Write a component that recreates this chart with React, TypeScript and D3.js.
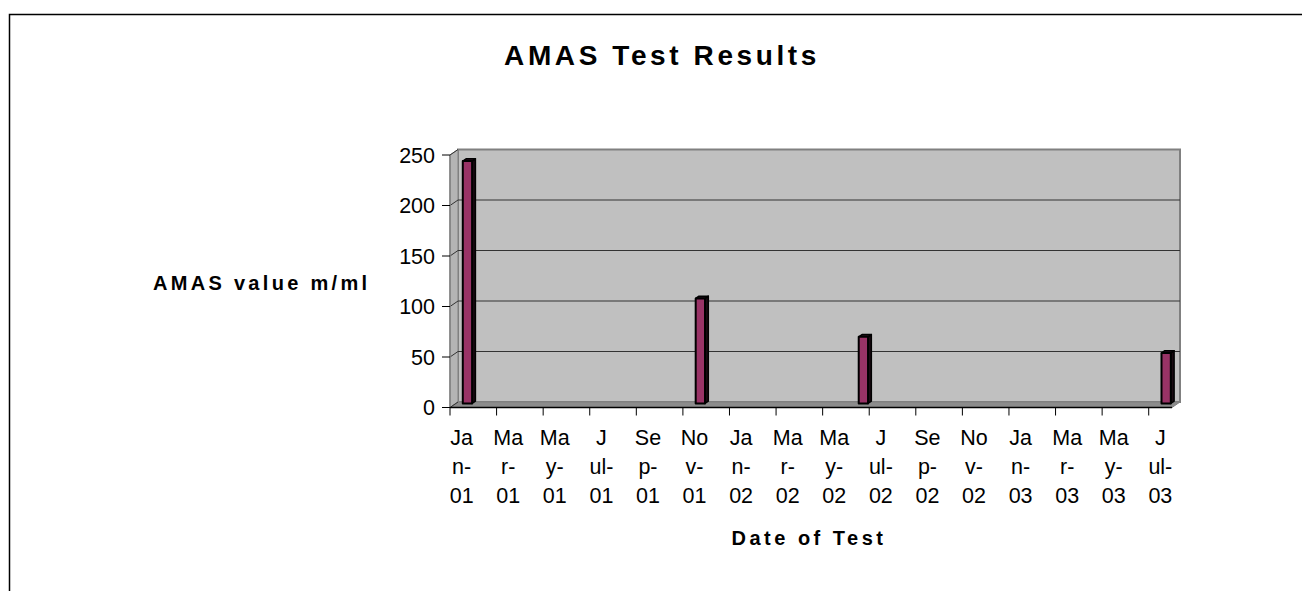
import * as d3 from 'd3';

// months on the date axis (base unit = month)
const firstMonth = '2001-01';
const lastMonth = '2003-07';

// test results
const testDates = ['2001-01', '2001-11', '2002-06', '2003-07'];
const amasValues = [240, 104, 66, 50];

const yTicks = [0, 50, 100, 150, 200, 250];

// Excel wraps the "Mmm-yy" labels into three lines
const tickLabelLines = [
    ['Ja', 'n-', '01'], ['Ma', 'r-', '01'], ['Ma', 'y-', '01'], ['J', 'ul-', '01'],
    ['Se', 'p-', '01'], ['No', 'v-', '01'], ['Ja', 'n-', '02'], ['Ma', 'r-', '02'],
    ['Ma', 'y-', '02'], ['J', 'ul-', '02'], ['Se', 'p-', '02'], ['No', 'v-', '02'],
    ['Ja', 'n-', '03'], ['Ma', 'r-', '03'], ['Ma', 'y-', '03'], ['J', 'ul-', '03'],
];

const FONT = '"Liberation Sans", Arial, sans-serif';

export default function App() {
    const width = 1302;
    const height = 591;

    const x0 = 450;
    const x1 = 1172;
    const yBase = 407.5;
    const yTop = 155;
    // depth offset of the 3-D floor / walls
    const dx = 8;
    const dy = -5.5;

    const parse = d3.timeParse('%Y-%m');
    const fmt = d3.timeFormat('%Y-%m');
    const months = d3.timeMonth
        .range(parse(firstMonth)!, d3.timeMonth.offset(parse(lastMonth)!, 1))
        .map(fmt);

    const x = d3.scaleBand<string>().domain(months).range([x0, x1]).padding(0);
    const y = d3.scaleLinear().domain([0, 250]).range([yBase, yTop]);

    const bw = x.bandwidth();
    const barW = bw / 2.5; // gap width 150%
    // bar sits part way into the depth
    const bShiftX = 5.8;
    const bShiftY = -4;
    const bDepthX = 3.3;
    const bDepthY = -2.3;

    const tickMonths = months.filter((_, i) => i % 2 === 0);

    const pts = (p: [number, number][]) => p.map((d) => d.join(',')).join(' ');

    return (
        <svg
            width={width}
            height={height}
            style={{ position: 'fixed', left: 0, top: 0, background: '#fff' }}
            fontFamily={FONT}
        >
            {/* outer chart frame (only top / left visible) */}
            <path d={`M9.5,${height}V14.5H${width}`} fill="none" stroke="#000" strokeWidth={1.5} />

            <text x={662} y={65} textAnchor="middle" fontSize={28} fontWeight="bold" letterSpacing={3.6}>
                AMAS Test Results
            </text>

            {/* back wall */}
            <rect
                x={x0 + dx}
                y={yTop + dy}
                width={x1 - x0}
                height={yBase - yTop}
                fill="#c0c0c0"
                stroke="#808080"
                strokeWidth={2}
            />
            {/* side wall */}
            <polygon
                points={pts([
                    [x0, yTop],
                    [x0 + dx, yTop + dy],
                    [x0 + dx, yBase + dy],
                    [x0, yBase],
                ])}
                fill="#b4b4b4"
                stroke="#808080"
                strokeWidth={1}
            />
            {/* floor */}
            <polygon
                points={pts([
                    [x0, yBase],
                    [x0 + dx, yBase + dy],
                    [x1 + dx, yBase + dy],
                    [x1, yBase],
                ])}
                fill="#8c8c8c"
                stroke="#808080"
                strokeWidth={1}
            />

            {/* gridlines */}
            {yTicks
                .filter((t) => t > 0 && t < 250)
                .map((t) => (
                    <g key={t}>
                        <line
                            x1={x0 + dx}
                            x2={x1 + dx}
                            y1={y(t) + dy}
                            y2={y(t) + dy}
                            stroke="#333"
                            strokeWidth={1.2}
                        />
                    </g>
                ))}
            {yTicks.map((t) => (
                <line
                    key={`s${t}`}
                    x1={x0}
                    x2={x0 + dx}
                    y1={y(t)}
                    y2={y(t) + dy}
                    stroke="#333"
                    strokeWidth={1}
                />
            ))}

            {/* bars */}
            {testDates.map((d, i) => {
                const L = x(d)! + bw / 2 - barW / 2 + bShiftX;
                const R = L + barW;
                const top = y(amasValues[i]) + bShiftY;
                const base = yBase + bShiftY;
                return (
                    <g key={d} stroke="#000" strokeWidth={1.5} strokeLinejoin="round">
                        <polygon
                            points={pts([
                                [R, top],
                                [R + bDepthX, top + bDepthY],
                                [R + bDepthX, base + bDepthY],
                                [R, base],
                            ])}
                            fill="#1a0a12"
                        />
                        <polygon
                            points={pts([
                                [L, top],
                                [L + bDepthX, top + bDepthY],
                                [R + bDepthX, top + bDepthY],
                                [R, top],
                            ])}
                            fill="#2a0f1e"
                        />
                        <rect x={L} y={top} width={barW} height={base - top} fill="#993366" strokeWidth={2} />
                    </g>
                );
            })}

            {/* value axis */}
            <line x1={x0} x2={x0} y1={yTop} y2={yBase} stroke="#808080" strokeWidth={1.5} />
            {yTicks.map((t) => (
                <g key={`y${t}`}>
                    <line x1={x0 - 8} x2={x0} y1={y(t)} y2={y(t)} stroke="#000" strokeWidth={1} />
                    <text x={435} y={y(t)} dy="0.36em" textAnchor="end" fontSize={21.5}>
                        {t}
                    </text>
                </g>
            ))}

            {/* category (date) axis */}
            <line x1={x0} x2={x1} y1={yBase} y2={yBase} stroke="#000" strokeWidth={1.5} />
            {tickMonths.map((m, i) => (
                <g key={m}>
                    <line x1={x(m)!} x2={x(m)!} y1={yBase} y2={yBase + 8} stroke="#000" strokeWidth={1} />
                    {tickLabelLines[i].map((s, j) => (
                        <text key={j} x={x(m)! + bw / 2} y={445 + j * 29} textAnchor="middle" fontSize={21.5}>
                            {s}
                        </text>
                    ))}
                </g>
            ))}

            <text x={153} y={290} fontSize={20} fontWeight="bold" letterSpacing={3.3}>
                AMAS value m/ml
            </text>
            <text x={809} y={545} textAnchor="middle" fontSize={20} fontWeight="bold" letterSpacing={3.5}>
                Date of Test
            </text>
        </svg>
    );
}
